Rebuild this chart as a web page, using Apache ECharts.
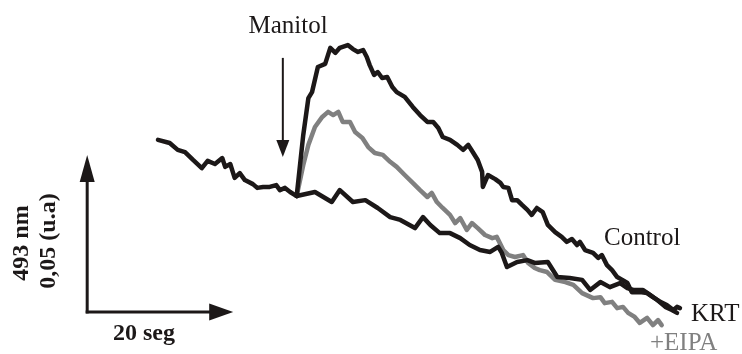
<!DOCTYPE html>
<html>
<head>
<meta charset="utf-8">
<script src="https://cdn.jsdelivr.net/npm/echarts@6/dist/echarts.min.js"></script>
<style>
  html, body { margin: 0; padding: 0; background: #ffffff; }
  #chart { width: 742px; height: 354px; }
</style>
</head>
<body>
<div id="chart"></div>
<script>
// Absorbance traces at 493 nm: time in s, absorbance change in 10^-3 u.a.
// Common baseline before the addition of manitol
const timeBase = [0, 1.6, 2.7, 3.7, 4.8, 6.0, 6.8, 7.8, 8.8, 9.2, 9.9, 10.5, 11.2, 11.9, 13.0, 13.6, 14.4, 15.3, 16.2, 16.7, 17.4, 18.1, 19.0];
const absBase  = [18.2, 17.2, 15.0, 14.3, 11.8, 9.2, 11.5, 10.5, 12.4, 9.6, 10.5, 6.1, 7.6, 5.4, 4.1, 2.9, 3.2, 3.2, 3.8, 2.2, 2.9, 1.6, 0.3];

// Control response
const timeControl = [19.0, 19.9, 20.6, 21.1, 21.9, 22.9, 23.6, 24.3, 24.9, 26.0, 26.7, 27.4, 28.1, 28.6, 29.0, 29.6, 30.1, 30.7, 31.4, 32.1, 32.7, 33.8, 34.9, 35.9, 36.9, 37.7, 38.4, 39.0, 40.0, 41.0, 41.8, 42.5, 43.2, 43.8, 44.4, 44.5, 45.2, 46.2, 46.9, 47.3, 48.0, 48.5, 49.2, 49.9, 50.6, 51.2, 51.9, 52.7, 53.4, 54.4, 55.3, 56.0, 56.7, 57.4, 57.8, 58.5, 59.6, 60.3, 60.8, 61.5, 62.2, 62.9, 63.6, 64.3, 64.9, 66.0, 67.0, 67.8, 68.8, 69.7, 70.6, 71.1, 71.5];
const absControl  = [0.3, 19.8, 31.5, 33.4, 41.4, 42.4, 47.5, 45.9, 47.5, 48.4, 47.1, 46.2, 46.8, 44.6, 42.0, 38.9, 39.8, 37.9, 38.2, 35.0, 33.4, 31.9, 28.7, 26.1, 23.9, 23.9, 22.0, 19.1, 18.2, 16.6, 15.0, 16.6, 14.0, 11.8, 8.0, 3.2, 7.0, 5.7, 4.5, 3.2, 2.9, -1.0, -1.0, -2.6, -4.1, -5.7, -3.5, -4.8, -8.9, -11.2, -12.7, -14.3, -13.4, -15.3, -14.3, -16.9, -17.8, -19.4, -18.5, -21.7, -23.3, -25.5, -26.4, -27.4, -30.3, -30.3, -30.6, -31.9, -33.4, -34.4, -36.0, -35.0, -35.4];

// +EIPA response
const timeEipa = [19.0, 19.9, 20.6, 21.5, 22.5, 23.3, 24.0, 24.7, 25.3, 26.3, 27.0, 28.0, 28.8, 29.7, 30.8, 31.8, 32.7, 33.8, 34.9, 35.9, 36.9, 37.5, 38.2, 39.0, 40.0, 40.7, 41.4, 42.3, 43.0, 43.8, 44.8, 45.8, 46.4, 47.3, 48.0, 48.9, 50.0, 50.7, 51.6, 52.3, 53.3, 54.4, 55.8, 56.9, 58.1, 59.6, 60.6, 61.2, 62.2, 62.9, 63.7, 64.4, 65.3, 66.0, 67.0, 67.8, 68.5, 69.0];
const absEipa  = [0.3, 10.2, 16.6, 22.3, 25.5, 27.1, 26.1, 27.1, 23.9, 23.9, 20.7, 18.8, 15.9, 14.0, 13.4, 11.2, 9.6, 7.0, 4.5, 2.2, 0.0, 1.3, -1.6, -3.5, -5.7, -8.3, -6.7, -10.5, -8.3, -9.9, -12.1, -13.1, -12.7, -16.9, -18.5, -19.1, -18.5, -21.0, -22.6, -23.3, -23.9, -26.4, -27.1, -28.0, -30.6, -32.2, -31.9, -33.8, -33.4, -35.4, -35.0, -36.9, -38.2, -40.1, -38.5, -40.8, -39.2, -40.8];

// KRT response
const timeKrt = [19.0, 21.5, 23.8, 24.9, 26.7, 28.4, 30.1, 31.8, 33.2, 35.2, 36.3, 37.3, 38.6, 40.0, 41.4, 42.7, 44.1, 45.5, 46.6, 47.1, 47.8, 49.2, 50.6, 51.6, 53.4, 54.7, 56.4, 58.1, 59.2, 60.6, 61.9, 63.3, 64.3, 65.1, 66.4, 67.4, 68.4, 69.5, 70.4, 71.1];
const absKrt  = [0.3, 1.6, -1.6, 2.2, -1.6, -1.0, -3.5, -6.4, -7.3, -9.9, -6.4, -8.9, -11.5, -11.5, -13.1, -15.3, -16.9, -17.5, -15.9, -17.8, -22.3, -20.7, -20.1, -21.0, -20.7, -25.5, -25.8, -26.4, -29.6, -27.1, -28.7, -27.4, -29.0, -29.6, -29.6, -31.2, -32.8, -35.0, -36.0, -36.9];

// Scale bars: 20 s and 0.05 u.a. (= 50 x 10^-3)
const scaleOrigin = [-9.7, -36.6];
const scaleTime = 20;
const scaleAbs = 50;
// Manitol addition marker (time, start and end of the arrow)
const manitolTime = 17.1;
const manitolAbs = [44.3, 12.7];

const zip = (xs, ys) => xs.map((x, i) => [x, ys[i]]);

const BLACK = '#1c1818';
const GREY = '#808080';
const SERIF = '"Liberation Serif", "Times New Roman", serif';

const chart = echarts.init(document.getElementById('chart'), null, { renderer: 'canvas' });

function traceSeries(name, data, color) {
  return {
    name, type: 'line', data, showSymbol: false, silent: true,
    lineStyle: { color, width: 4.5, join: 'round', cap: 'round' },
    animation: false
  };
}

chart.setOption({
  animation: false,
  backgroundColor: '#ffffff',
  grid: { left: 12, right: 0, top: 8.6, bottom: 0, containLabel: false },
  xAxis: { type: 'value', min: -20, max: 80, show: false },
  yAxis: { type: 'value', min: -50, max: 60, show: false },
  series: [
    traceSeries('+EIPA', zip(timeEipa, absEipa), GREY),
    traceSeries('KRT', zip(timeKrt, absKrt), BLACK),
    traceSeries('Control', zip(timeControl, absControl), BLACK),
    traceSeries('base', zip(timeBase, absBase), BLACK)
  ]
});

const px = (t, a) => chart.convertToPixel({ gridIndex: 0 }, [t, a]);

// Arrow from p0 to p1 with a triangular head of given length and half width
function arrow(p0, p1, width, headLen, headHalf) {
  const dx = p1[0] - p0[0], dy = p1[1] - p0[1];
  const len = Math.hypot(dx, dy);
  const ux = dx / len, uy = dy / len;
  const bx = p1[0] - ux * headLen, by = p1[1] - uy * headLen;
  return [
    { type: 'polyline', silent: true,
      shape: { points: [p0, [bx + ux, by + uy]] },
      style: { stroke: BLACK, lineWidth: width, fill: null } },
    { type: 'polygon', silent: true,
      shape: { points: [p1, [bx - uy * headHalf, by + ux * headHalf], [bx + uy * headHalf, by - ux * headHalf]] },
      style: { fill: BLACK } }
  ];
}

const o = px(scaleOrigin[0], scaleOrigin[1]);
const yTip = px(scaleOrigin[0], scaleOrigin[1] + scaleAbs);
const xTip = px(scaleOrigin[0] + scaleTime, scaleOrigin[1]);
const mTop = px(manitolTime, manitolAbs[0]);
const mTip = px(manitolTime, manitolAbs[1]);

function label(text, x, y, opts) {
  return Object.assign({
    type: 'text', x, y, silent: true,
    style: Object.assign({
      text, font: '25px ' + SERIF, fill: BLACK, align: 'left', verticalAlign: 'middle'
    }, opts.style || {})
  }, opts.el || {});
}

chart.setOption({
  graphic: [
    ...arrow([o[0], o[1] + 1.5], yTip, 3, 27, 7.5),
    ...arrow([o[0] - 1.5, o[1]], xTip, 3, 24, 8.5),
    ...arrow(mTop, mTip, 2, 17, 6.5),
    label('Manitol', 288, 26, { style: { align: 'center' } }),
    label('Control', 604, 238, {}),
    label('KRT', 691, 314, {}),
    label('+EIPA', 650, 343, { style: { fill: GREY } }),
    label('20 seg', 144, 334, { style: { align: 'center', font: 'bold 24px ' + SERIF } }),
    label('493 nm', 22, 243, { style: { align: 'center', font: 'bold 24px ' + SERIF }, el: { rotation: Math.PI / 2 } }),
    label('0,05 (u.a)', 49, 241, { style: { align: 'center', font: 'bold 24px ' + SERIF }, el: { rotation: Math.PI / 2 } })
  ]
});
</script>
</body>
</html>
